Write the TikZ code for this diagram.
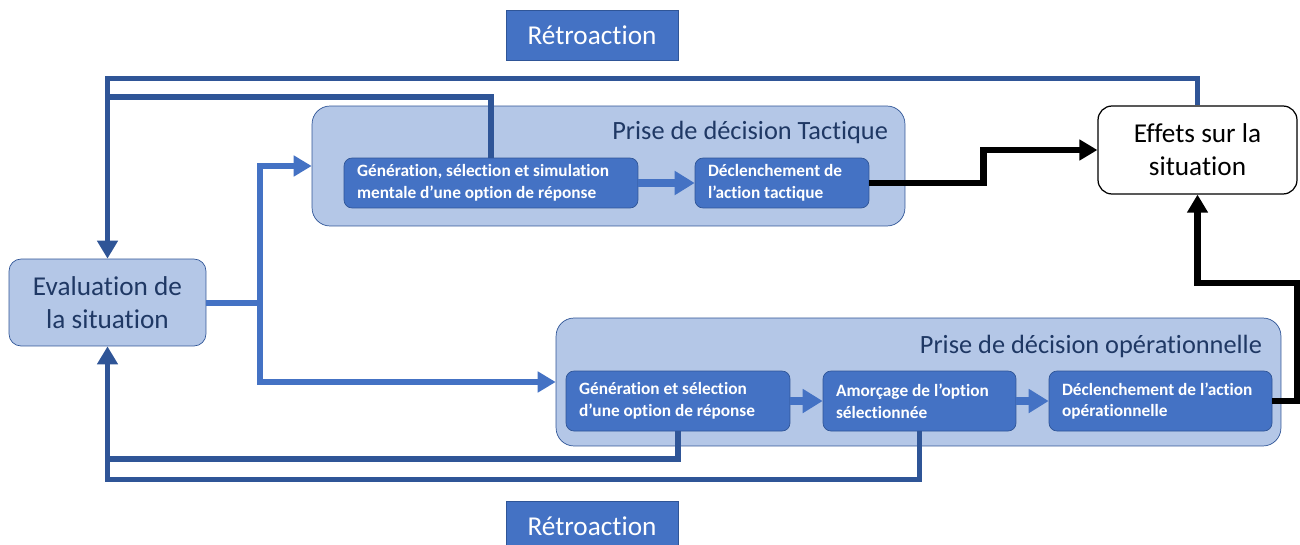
\documentclass[tikz,border=0pt]{standalone}
\usepackage{fontspec}
\setmainfont[Ligatures=NoCommon]{Carlito}
\usetikzlibrary{arrows.meta,positioning}
\definecolor{lightblue}{HTML}{B4C7E7}
\definecolor{midblue}{HTML}{4472C4}
\definecolor{darkblue}{HTML}{2F5597}
\definecolor{navy}{HTML}{1F3864}

\begin{document}
\begin{tikzpicture}[x=0.02cm, y=-0.02cm,
  every node/.style={font=\fontsize{15.5}{18.7}\selectfont},
  evalbox/.style={draw=darkblue, thin, fill=lightblue, rounded corners=0.24cm, text=navy, align=center, minimum width=3.94cm, minimum height=1.74cm, inner sep=0pt},
  effetbox/.style={draw=black, line width=0.7pt, fill=white, rounded corners=0.28cm, align=center, minimum width=3.98cm, minimum height=1.76cm, inner sep=0pt},
  groupbox/.style={draw=darkblue, thin, fill=lightblue, rounded corners=0.36cm, inner sep=0pt},
  grouptitle/.style={text=navy, anchor=east, inner sep=0pt, font=\fontsize{15}{18}\selectfont},
  stepbox/.style={draw=darkblue, thin, fill=midblue, text=white, rounded corners=0.16cm, font=\bfseries\fontsize{9.85}{12.4}\selectfont, align=flush left, inner xsep=0.26cm, inner ysep=0pt},
  retrobox/.style={draw=darkblue, thin, fill=midblue, text=white, minimum width=3.44cm, minimum height=1cm, inner sep=0pt},
  flowline/.style={draw=midblue, line width=0.12cm},
  fbline/.style={draw=darkblue, line width=0.11cm},
  actline/.style={draw=black, line width=0.13cm},
  steparrow/.style={draw=midblue, line width=0.16cm, -{Triangle[width=0.46cm, length=0.4cm]}},
  tip/.style={-{Triangle[width=0.4cm, length=0.36cm]}}
]
\useasboundingbox (0,0) rectangle (1300,544);

%========== labels ==========
\node[retrobox] (retrotop) at (592,35) {Rétroaction};
\node[retrobox] (retrobot) at (592,526) {Rétroaction};

%========== main boxes ==========
\node[evalbox] (eval) at (107.5,302.5) {Evaluation de\\la situation};
\node[effetbox] (effets) at (1197.5,150) {Effets sur la\\situation};

%========== tactical group ==========
\node[groupbox, minimum width=11.86cm, minimum height=2.4cm] (tact) at (608.5,166) {};
\node[grouptitle] (tacttitle) at ([xshift=-0.34cm, yshift=-0.54cm]tact.north east) {Prise de décision Tactique};
\node[stepbox, text width=5.36cm, minimum height=1cm] (t1) at (491,183)
  {Génération, sélection et simulation\\mentale d’une option de réponse};
\node[stepbox, text width=2.96cm, minimum height=1cm] (t2) at (782,183)
  {Déclenchement de\\l’action tactique};

%========== operational group ==========
\node[groupbox, minimum width=14.5cm, minimum height=2.56cm] (oper) at (918.5,382) {};
\node[grouptitle] (opertitle) at ([xshift=-0.38cm, yshift=-0.58cm]oper.north east) {Prise de décision opérationnelle};
\node[stepbox, text width=3.96cm, minimum height=1.2cm] (o1) at (678,401)
  {Génération et sélection\\d’une option de réponse};
\node[stepbox, text width=3.34cm, minimum height=1.2cm] (o2) at (919.5,401)
  {Amorçage de l’option\\sélectionnée};
\node[stepbox, text width=3.94cm, minimum height=1.2cm] (o3) at (1160.5,401)
  {Déclenchement de l’action\\opérationnelle};

%========== connectors ==========
\draw[steparrow] (t1) -- (t2);
\draw[steparrow] (o1) -- (o2);
\draw[steparrow] (o2) -- (o3);

\coordinate (split) at (260,302.5);
\draw[flowline] (eval.east) -- (split);
\draw[flowline, tip] (split) |- (tact.west);
\draw[flowline, tip] (split) |- (oper.west);

% feedback loops
\coordinate (fbtop) at (107.5,97);
\coordinate (fbbot) at (107.5,459);
\draw[fbline, tip] (effets.north) -- ++(0,-27) -| (eval.north);
\draw[fbline] (t1.north) |- (fbtop);
\draw[fbline, tip] (o2.south) -- ++(0,48) -| (eval.south);
\draw[fbline] (o1.south) |- (fbbot);

% actions
\draw[actline, tip] (t2.east) -- ++(114,0) |- (effets.west);
\draw[actline, tip] (o3.east) -- ++(25,0) -- ++(0,-118) -| (effets.south);

\end{tikzpicture}
\end{document}
